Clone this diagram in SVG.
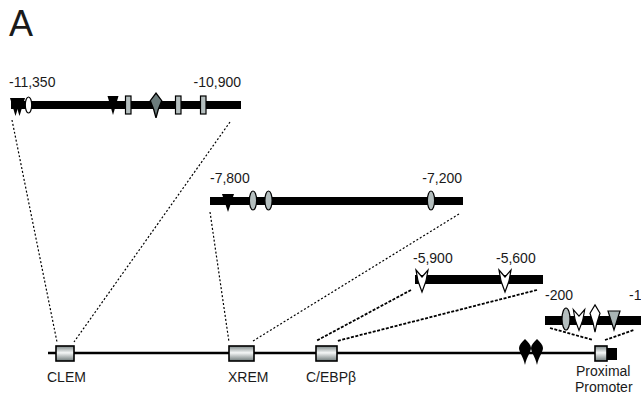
<svg xmlns="http://www.w3.org/2000/svg" width="641" height="400" viewBox="0 0 641 400">
  <style>
    text { font-family: "Liberation Sans", Arial, sans-serif; fill: #1a1a1a; }
    .pos { font-size: 14px; }
    .lbl { font-size: 14px; }
    .bar { fill: #000; }
    .dot1 { fill: none; stroke: #000; stroke-width: 1.2; stroke-dasharray: 2 2; }
    .dot2 { fill: none; stroke: #000; stroke-width: 1.8; stroke-dasharray: 3 1.5; }
    .site-rect { fill: #b4bebe; stroke: #000; stroke-width: 1.2; }
    .site-ell { fill: #b4bebe; stroke: #000; stroke-width: 1.2; }
    .site-ell-w { fill: #fff; stroke: #000; stroke-width: 1.2; }
    .tri-b { fill: #000; }
    .tri-g { fill: #a8b4b4; stroke: #000; stroke-width: 1.2; }
    .chev { fill: #fff; stroke: #000; stroke-width: 1.2; }
    .drop-g { fill: #6c7c7c; stroke: #000; stroke-width: 1.2; }
    .drop-w { fill: #fff; stroke: #000; stroke-width: 1.2; }
    .drop-b { fill: #000; }
    .elem { fill: url(#boxGrad); stroke: #000; stroke-width: 1.6; }
  </style>
  <defs>
    <linearGradient id="boxGrad" x1="0" y1="0" x2="0" y2="1">
      <stop offset="0" stop-color="#7d8888"/>
      <stop offset="0.45" stop-color="#f4f6f6"/>
      <stop offset="1" stop-color="#6f7a7a"/>
    </linearGradient>
    <path id="chevron" d="M -6,-11 L 0,-4 L 6,-11 L 4,0 L 0,11 L -4,0 Z"/>
    <path id="drop" d="M 0,-13 C 3,-10 6,-7 6,-4 C 6,0 2,4 0,13 C -2,4 -6,0 -6,-4 C -6,-7 -3,-10 0,-13 Z"/>
    <path id="diamond" d="M 0,-13 L 5,-5 L 2,4 L 0,13 L -2,4 L -5,-5 Z"/>
  </defs>

  <rect width="641" height="400" fill="#fff"/>

  <!-- panel letter -->
  <text x="9" y="36" style="font-size:36px">A</text>

  <!-- expansion lines from genomic elements to detail bars -->
  <g id="connectors">
    <line class="dot1" x1="12" y1="120" x2="57" y2="342"/>
    <line class="dot1" x1="230" y1="122" x2="74" y2="342"/>
    <line class="dot1" x1="210" y1="212" x2="229" y2="342"/>
    <line class="dot1" x1="459" y1="214" x2="253" y2="341"/>
    <line class="dot2" x1="411" y1="290" x2="316" y2="341"/>
    <line class="dot2" x1="537" y1="290" x2="337" y2="341"/>
    <line class="dot2" x1="550" y1="328" x2="593" y2="340"/>
    <line class="dot2" x1="605" y1="340" x2="634" y2="330"/>
  </g>

  <!-- main gene locus -->
  <g id="locus">
    <line x1="48" y1="353" x2="596" y2="353" stroke="#000" stroke-width="2.6"/>
    <g id="drops">
      <use href="#drop" class="drop-b" transform="translate(525,352)"/>
      <use href="#drop" class="drop-b" transform="translate(537,352)"/>
    </g>
  </g>

  <g id="clem">
    <rect class="elem" x="56" y="346" width="18" height="15"/>
    <text class="lbl" x="47" y="382">CLEM</text>
  </g>

  <g id="xrem">
    <rect class="elem" x="229" y="346" width="25" height="15"/>
    <text class="lbl" x="228" y="382">XREM</text>
  </g>

  <g id="cebpb">
    <rect class="elem" x="316" y="346" width="21" height="15"/>
    <text class="lbl" x="306" y="382">C/EBPβ</text>
  </g>

  <g id="proximal">
    <rect x="607" y="348" width="10" height="12" fill="#000"/>
    <rect class="elem" x="595" y="346" width="12" height="15"/>
    <text class="lbl" x="576" y="376">Proximal</text>
    <text class="lbl" x="575" y="392">Promoter</text>
  </g>

  <!-- detail: -11,350 to -10,900 -->
  <g id="detail-clem">
    <rect class="bar" x="11" y="101" width="230" height="8"/>
    <polygon class="tri-b" points="10,98 21,98 15.5,116"/>
    <polygon class="tri-b" points="14,98 25,98 19.5,116"/>
    <ellipse class="site-ell-w" cx="28.5" cy="105" rx="3.2" ry="8"/>
    <polygon class="tri-b" points="107.5,96 118.5,96 113,115"/>
    <rect class="site-rect" x="125.5" y="96" width="5.5" height="18"/>
    <use href="#diamond" class="drop-g" transform="translate(156,105.5) scale(1.15,0.95)"/>
    <rect class="site-rect" x="175.5" y="96" width="5.5" height="18"/>
    <rect class="site-rect" x="200.5" y="96" width="5.5" height="18"/>
    <text class="pos" x="9" y="87">-11,350</text>
    <text class="pos" x="241" y="87" text-anchor="end">-10,900</text>
  </g>

  <!-- detail: -7,800 to -7,200 -->
  <g id="detail-xrem">
    <rect class="bar" x="210" y="197" width="253" height="8"/>
    <polygon class="tri-b" points="222,194 234,194 228,212"/>
    <ellipse class="site-ell" cx="253" cy="200.5" rx="3.6" ry="9.5"/>
    <ellipse class="site-ell" cx="268.5" cy="200.5" rx="3.6" ry="9.5"/>
    <ellipse class="site-ell" cx="431" cy="200.5" rx="3.6" ry="9.5"/>
    <text class="pos" x="210" y="183">-7,800</text>
    <text class="pos" x="462" y="183" text-anchor="end">-7,200</text>
  </g>

  <!-- detail: -5,900 to -5,600 -->
  <g id="detail-cebpb">
    <rect class="bar" x="415" y="275" width="128" height="9"/>
    <use href="#chevron" class="chev" transform="translate(422,281)"/>
    <use href="#chevron" class="chev" transform="translate(505,281)"/>
    <text class="pos" x="413" y="263">-5,900</text>
    <text class="pos" x="496" y="263">-5,600</text>
  </g>

  <!-- detail: -200 to -1 -->
  <g id="detail-proximal">
    <rect class="bar" x="545" y="316" width="96" height="9"/>
    <ellipse class="site-ell" cx="566" cy="319" rx="4" ry="11"/>
    <use href="#chevron" class="chev" transform="translate(579,320) scale(0.95,0.95)"/>
    <use href="#diamond" class="drop-w" transform="translate(595,318.5) scale(1,1.05)"/>
    <polygon class="tri-g" points="608,311 620,311 614,330"/>
    <text class="pos" x="545" y="300">-200</text>
    <text class="pos" x="629" y="300">-1</text>
  </g>
</svg>
